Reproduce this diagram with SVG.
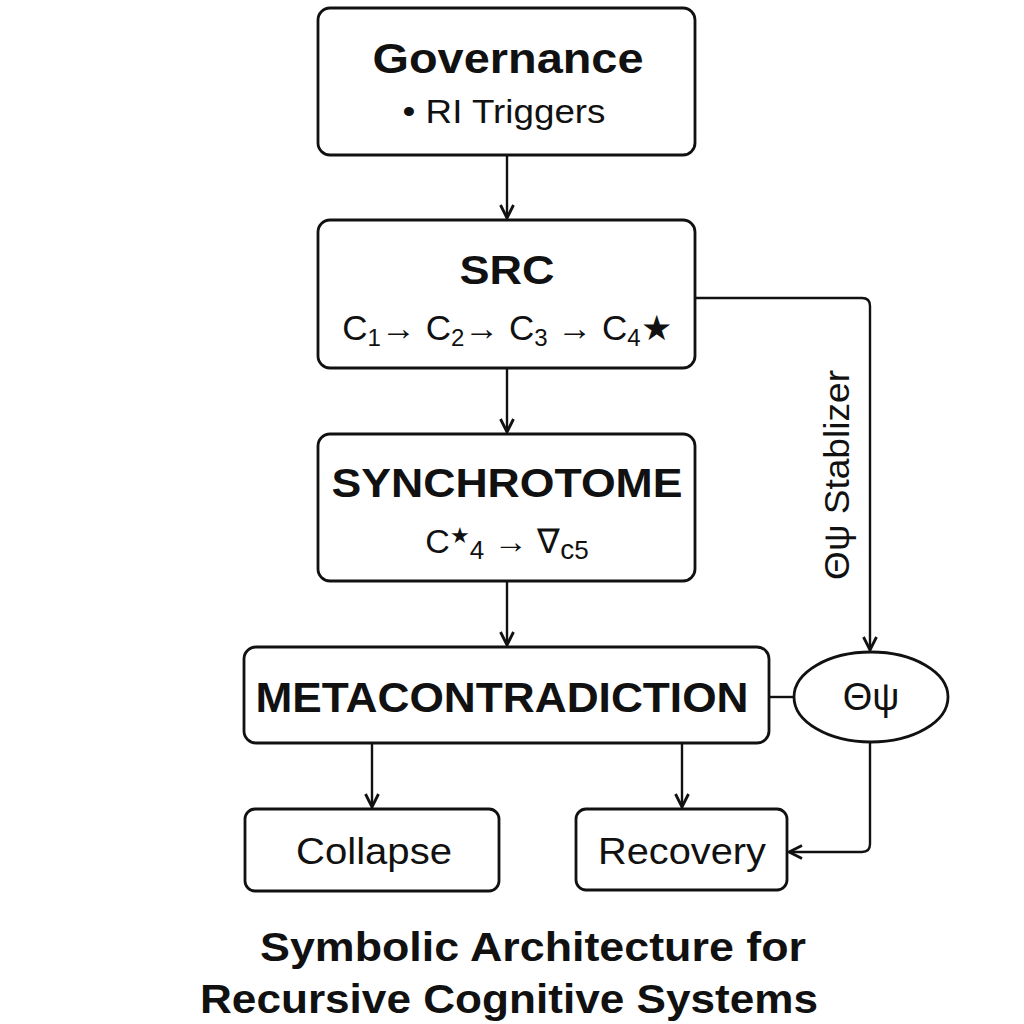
<svg xmlns="http://www.w3.org/2000/svg" width="1024" height="1024" viewBox="0 0 1024 1024">
<defs>
<style>
.box{fill:#fff;stroke:#111;stroke-width:2.8}
.ln{fill:none;stroke:#111;stroke-width:2.4}
text{font-family:"Liberation Sans","Helvetica",Arial,sans-serif;fill:#111;text-anchor:middle}
.h{font-weight:bold}
</style>
<marker id="ah" viewBox="0 0 16 16" refX="14" refY="8" markerWidth="16" markerHeight="16" markerUnits="userSpaceOnUse" orient="auto">
<path d="M1,1.5 L14,8 L1,14.5" fill="none" stroke="#111" stroke-width="2.8"/>
</marker>
</defs>
<rect width="1024" height="1024" fill="#fff"/>
<g id="connectors">
<line class="ln" x1="507" y1="155" x2="507" y2="218" marker-end="url(#ah)"/>
<line class="ln" x1="507" y1="368" x2="507" y2="432" marker-end="url(#ah)"/>
<line class="ln" x1="507" y1="581" x2="507" y2="645" marker-end="url(#ah)"/>
<line class="ln" x1="372" y1="743" x2="372" y2="807" marker-end="url(#ah)"/>
<line class="ln" x1="682" y1="743" x2="682" y2="807" marker-end="url(#ah)"/>
<path class="ln" d="M695,298 H862 Q870,298 870,306 V650" marker-end="url(#ah)"/>
<line class="ln" x1="769" y1="697" x2="794" y2="697"/>
<path class="ln" d="M870,742 V844 Q870,852 862,852 H789" marker-end="url(#ah)"/>
<text transform="translate(849,475) rotate(-90)" font-size="35" textLength="210" lengthAdjust="spacingAndGlyphs">Θψ Stablizer</text>
</g>
<g id="governance">
<rect class="box" x="318" y="8" width="377" height="147" rx="12"/>
<text class="h" x="508" y="73" font-size="43" textLength="271" lengthAdjust="spacingAndGlyphs">Governance</text>
<text x="504" y="123" font-size="33" textLength="203" lengthAdjust="spacingAndGlyphs">• RI Triggers</text>
</g>
<g id="src">
<rect class="box" x="318" y="220" width="377" height="148" rx="12"/>
<text class="h" x="507" y="284" font-size="41" textLength="95" lengthAdjust="spacingAndGlyphs">SRC</text>
<text x="507" y="340" font-size="35">C<tspan font-size="24" dy="6">1</tspan><tspan dy="-6">→ C</tspan><tspan font-size="24" dy="6">2</tspan><tspan dy="-6">→ C</tspan><tspan font-size="24" dy="6">3</tspan><tspan dy="-6"> → C</tspan><tspan font-size="24" dy="6">4</tspan><tspan dy="-6">★</tspan></text>
</g>
<g id="synchrotome">
<rect class="box" x="318" y="434" width="377" height="147" rx="12"/>
<text class="h" x="507" y="497" font-size="40" textLength="351" lengthAdjust="spacingAndGlyphs">SYNCHROTOME</text>
<text x="507" y="553" font-size="34">C<tspan font-size="22" dy="-10">★</tspan><tspan font-size="26" dy="16">4</tspan><tspan dy="-6"> → ∇</tspan><tspan font-size="28" dy="6">c</tspan><tspan font-size="26">5</tspan></text>
</g>
<g id="metacontradiction">
<rect class="box" x="244" y="647" width="525" height="96" rx="12"/>
<text class="h" x="502" y="712" font-size="43" textLength="493" lengthAdjust="spacingAndGlyphs">METACONTRADICTION</text>
</g>
<g id="theta">
<ellipse class="box" cx="871" cy="697" rx="77" ry="45"/>
<text x="871" y="710" font-size="38">Θψ</text>
</g>
<g id="collapse">
<rect class="box" x="245" y="809" width="254" height="82" rx="10"/>
<text x="374" y="864" font-size="37" textLength="156" lengthAdjust="spacingAndGlyphs">Collapse</text>
</g>
<g id="recovery">
<rect class="box" x="576" y="809" width="211" height="81" rx="10"/>
<text x="682" y="864" font-size="37" textLength="168" lengthAdjust="spacingAndGlyphs">Recovery</text>
</g>
<g id="title">
<text class="h" x="533" y="961" font-size="41" textLength="546" lengthAdjust="spacingAndGlyphs">Symbolic Architecture for</text>
<text class="h" x="509" y="1013" font-size="41" textLength="618" lengthAdjust="spacingAndGlyphs">Recursive Cognitive Systems</text>
</g>
</svg>
